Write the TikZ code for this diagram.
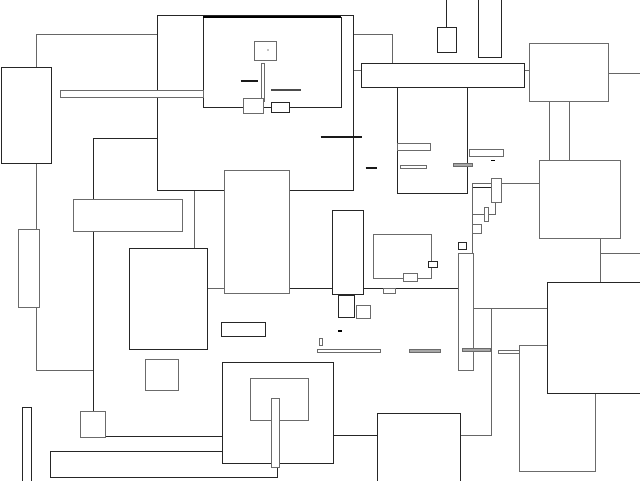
\documentclass[tikz,border=0pt]{standalone}
\begin{document}
\begin{tikzpicture}[x=1pt,y=-1pt,
  dk/.style={draw=black!85,line width=1pt,fill=white},
  gr/.style={draw=black!58,line width=1pt,fill=white},
  gf/.style={draw=black!58,line width=0.8pt,fill=black!35},
  ln/.style={draw=black!60,line width=1pt},
  lk/.style={draw=black!85,line width=1pt},
  thick2/.style={draw=black!90,line width=2pt}]
\useasboundingbox (0,0) rectangle (640,480);
\clip (0,0) rectangle (640,480);
\fill[white] (0,0) rectangle (640,480);
% connectors
\draw[ln] (36,67) -- (36,34.7) -- (157,34.7);
\draw[ln] (36,164) -- (36,230);
\draw[ln] (36,307) -- (36,370) -- (93.3,370);
\draw[lk] (157,138.3) -- (93.3,138.3) -- (93.3,200);
\draw[lk] (93.3,231) -- (93.3,411);
\draw[lk] (105,436) -- (222.3,436);
\draw[ln] (194.3,190) -- (194.3,249);
\draw[ln] (207,288.3) -- (225,288.3);
\draw[lk] (289.5,288.3) -- (332,288.3);
\draw[lk] (363.3,288.3) -- (458.3,288.3);
\draw[ln] (353.3,34.7) -- (392.3,34.7) -- (392.3,63.3);
\draw[ln] (353.3,70) -- (361,70);
\draw[ln] (524.7,70) -- (529.3,70);
\draw[ln] (608.7,73.3) -- (640,73.3);
\draw[lk] (446,-2) -- (446,27.3);
\draw[ln] (549.7,101) -- (549.7,160);
\draw[ln] (569.7,101) -- (569.7,160);
\draw[ln] (501.3,183.7) -- (539.5,183.7);
\draw[ln] (472.3,183.3) -- (491,183.3);
\draw[lk] (472.3,187.3) -- (491,187.3);
\draw[ln] (472.3,183.3) -- (472.3,308.7) -- (547.3,308.7);
\draw[ln] (472.3,214.3) -- (484.3,214.3);
\draw[ln] (488.3,214.3) -- (495,214.3) -- (495,202.3);
\draw[lk] (333.7,435.7) -- (377.3,435.7);
\draw[ln] (460,435.7) -- (491,435.7) -- (491,308.7);
\draw[ln] (600,238.3) -- (600,282.3);
\draw[ln] (600,253.3) -- (640,253.3);
% left side
\draw[dk] (1.3,67.3) rectangle (51,163.7);
\draw[gr] (18.3,229.7) rectangle (39.7,307.3);
\draw[gr] (73.3,199.7) rectangle (182.3,231);
\draw[dk] (129.7,248.7) rectangle (207.3,349.7);
\draw[gr] (145.7,359.7) rectangle (178.7,390);
\draw[gr] (80.7,411) rectangle (105,437.3);
\draw[dk] (50.7,451) rectangle (277.3,477.3);
\draw[dk] (22.3,407.7) rectangle (31,485);
\draw[dk] (222.3,362.3) rectangle (333.7,463.7);
\draw[gr] (250.7,378.3) rectangle (308.7,420);
\draw[gr] (271,398.3) rectangle (279.7,467.3);
\draw[dk] (221,322.3) rectangle (265,336);
% top block
\draw[dk] (157,15.7) rectangle (353.3,190);
\draw[gr] (224.7,170) rectangle (289.5,293.3);
\draw[lk,fill=white] (203.3,17) rectangle (341,107.3);
\draw[black,line width=1.5pt] (203.3,17) -- (341,17);
\draw[gr] (60.7,90.7) rectangle (203.3,97.3);
\draw[gr] (254.3,41) rectangle (276.3,60);
\fill[black] (268,50) circle (0.6);
\draw[gr] (261,63.3) rectangle (264.3,101.7);
\draw[thick2] (240.7,81.3) -- (257.7,81.3);
\draw[draw=black!70,line width=2pt] (271.3,90) -- (301,90);
\draw[gr] (243.7,98.7) rectangle (263.3,113.7);
\draw[dk] (271,102.3) rectangle (289.7,112.3);
\draw[thick2] (320.7,136.5) -- (361.7,136.5);
\draw[thick2] (365.7,167.7) -- (376.7,167.7);
% top right
\draw[dk] (437.3,27.3) rectangle (456,52.3);
\draw[dk] (478.3,-3) rectangle (501.3,57.3);
\draw[dk] (397.3,87.3) rectangle (467.3,193.3);
\draw[dk] (361,63.3) rectangle (524.7,87.3);
\draw[gr] (529.3,43.3) rectangle (608.7,101);
\draw[gr] (397.3,143.3) rectangle (430,150);
\draw[gr] (400.7,165.7) rectangle (426.7,168.7);
\draw[gf] (453.3,163.3) rectangle (472.3,166.3);
\draw[gr] (469.3,149.7) rectangle (503.7,156);
\draw[black,line width=1.5pt] (491,160.7) -- (494.7,160.7);
\draw[gr] (539.5,160) rectangle (620,238.3);
\draw[gr] (491,178.5) rectangle (501.3,202.3);
\draw[gr] (484.3,207.3) rectangle (488.3,221.3);
\draw[gr] (472.3,224.7) rectangle (481.3,233.3);
% middle
\draw[dk] (332,210.7) rectangle (363.3,294.7);
\draw[dk] (338.3,295) rectangle (354.3,317.3);
\draw[gr] (356,305.7) rectangle (370,318.7);
\draw[gr] (373.7,234.7) rectangle (431.3,278.7);
\draw[dk] (428.3,261) rectangle (437.3,267.3);
\draw[gr] (403.3,273.3) rectangle (417.3,281);
\draw[gr] (383.3,288.3) rectangle (395,293.7);
\draw[dk] (458.3,242.3) rectangle (466.3,249.7);
\draw[gr] (458.3,253.3) rectangle (473.3,370);
\draw[black,line width=2pt] (338,331) -- (342,331);
\draw[gr] (319.3,338.3) rectangle (322.7,345.3);
\draw[gr] (317,349.7) rectangle (380.3,352.3);
\draw[gf] (409.3,349.7) rectangle (440.3,352.3);
\draw[gf] (462.3,348.3) rectangle (490.3,351.3);
\draw[gr] (498.3,350.7) rectangle (522.7,353.3);
\fill[black] (525,354) circle (0.7);
% bottom right
\draw[gr] (519.3,345.7) rectangle (595,471);
\draw[dk] (547.3,282.3) rectangle (645,393.7);
\draw[dk] (377.3,413.7) rectangle (460,485);
\end{tikzpicture}
\end{document}
